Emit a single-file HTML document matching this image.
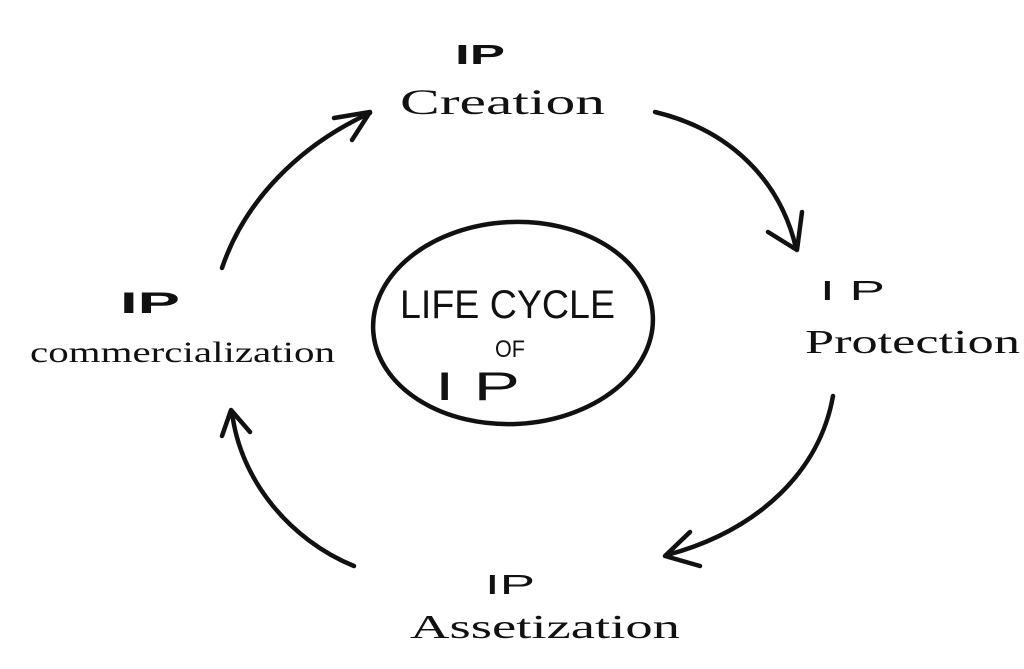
<!DOCTYPE html>
<html><head><meta charset="utf-8"><style>
html,body{margin:0;padding:0;background:#fff;}
svg{display:block}
text{font-family:"Liberation Sans",sans-serif;fill:#111;}
</style></head><body>
<svg width="1024" height="669" viewBox="0 0 1024 669" xmlns="http://www.w3.org/2000/svg">
<rect width="1024" height="669" fill="#fff"/>
<g fill="none" stroke="#111" stroke-width="4.5" stroke-linecap="round" stroke-linejoin="round">
<ellipse cx="513" cy="323" rx="140" ry="101" transform="rotate(-3 513 323)"/>
<!-- top-right arrow -->
<path d="M655 112 C730 130 780 180 796 248"/>
<path d="M768 232 L797 250 L802 212"/>
<!-- right-bottom arrow -->
<path d="M833 396 C820 470 760 530 667 555"/>
<path d="M690 532 L665 556 L700 566"/>
<!-- bottom-left arrow -->
<path d="M354 566 C290 540 240 480 232 412"/>
<path d="M222 436 L231 410 L250 432"/>
<!-- left-top arrow -->
<path d="M222 268 C245 200 300 145 370 113"/>
<path d="M334 118 L370 112 L352 140"/>
</g>
<!-- center text -->
<text x="400" y="318" font-size="40" textLength="215" lengthAdjust="spacingAndGlyphs">LIFE CYCLE</text>
<text x="495" y="357" font-size="24" textLength="30" lengthAdjust="spacingAndGlyphs">OF</text>
<text x="435" y="400" font-size="40" textLength="85" lengthAdjust="spacingAndGlyphs">I P</text>
<!-- top -->
<text x="455" y="64" font-size="28" font-weight="bold" textLength="50" lengthAdjust="spacingAndGlyphs">IP</text>
<text x="400" y="114" font-size="36" font-family="Liberation Serif" textLength="205" lengthAdjust="spacingAndGlyphs" style="font-family:'Liberation Serif',serif">Creation</text>
<!-- right -->
<text x="820" y="300" font-size="28" textLength="65" lengthAdjust="spacingAndGlyphs">I P</text>
<text x="805" y="353" font-size="34" textLength="215" lengthAdjust="spacingAndGlyphs" style="font-family:'Liberation Serif',serif">Protection</text>
<!-- bottom -->
<text x="485" y="594" font-size="28" textLength="50" lengthAdjust="spacingAndGlyphs">IP</text>
<text x="410" y="638" font-size="34" textLength="270" lengthAdjust="spacingAndGlyphs" style="font-family:'Liberation Serif',serif">Assetization</text>
<!-- left -->
<text x="120" y="313" font-size="30" font-weight="bold" textLength="60" lengthAdjust="spacingAndGlyphs">IP</text>
<text x="30" y="362" font-size="30" textLength="305" lengthAdjust="spacingAndGlyphs" style="font-family:'Liberation Serif',serif">commercialization</text>
</svg>
</body></html>
